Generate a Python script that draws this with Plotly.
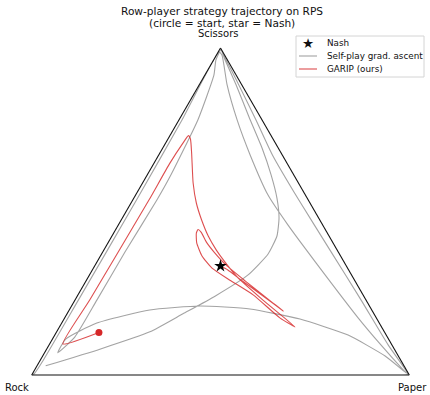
import plotly.graph_objects as go

# Row-player mixed strategy (Rock, Paper, Scissors) along each run.

# Self-play simultaneous gradient ascent: cycles Rock -> Paper -> Scissors
selfplay_rock = [
    0.949, 0.780, 0.621, 0.506, 0.394, 0.274, 0.189, 0.138, 0.105, 0.080, 0.060, 0.043, 0.030, 0.015, 0.006, 0.002,
    0.030, 0.059, 0.170, 0.331, 0.401, 0.565, 0.713, 0.828, 0.897,
    0.855, 0.748, 0.588, 0.449, 0.321, 0.204, 0.101, 0.035, 0.005,
    0.008, 0.030, 0.048, 0.076, 0.092, 0.099, 0.085, 0.066, 0.039, 0.007,
    0.010, 0.212, 0.455, 0.762, 0.946, 0.989,
    0.996, 0.005,
    0.002, 0.010, 0.013, 0.019, 0.025, 0.026, 0.016, 0.007, 0.001,
]
selfplay_paper = [
    0.023, 0.141, 0.247, 0.307, 0.365, 0.420, 0.441, 0.437, 0.415, 0.379, 0.328, 0.263, 0.181, 0.098, 0.030, 0.004,
    0.006, 0.024, 0.050, 0.063, 0.064, 0.059, 0.058, 0.056, 0.035,
    0.035, 0.093, 0.213, 0.340, 0.477, 0.625, 0.777, 0.907, 0.989,
    0.977, 0.875, 0.778, 0.578, 0.449, 0.350, 0.242, 0.154, 0.074, 0.015,
    0.002, 0.008, 0.010, 0.009, 0.008, 0.005,
    0.003, 0.994,
    0.992, 0.898, 0.758, 0.599, 0.440, 0.301, 0.204, 0.091, 0.002,
]
selfplay_scissors = [
    0.028, 0.079, 0.132, 0.187, 0.241, 0.306, 0.370, 0.425, 0.480, 0.541, 0.612, 0.694, 0.789, 0.887, 0.964, 0.994,
    0.964, 0.917, 0.780, 0.606, 0.535, 0.376, 0.229, 0.116, 0.068,
    0.110, 0.159, 0.199, 0.211, 0.202, 0.171, 0.122, 0.058, 0.006,
    0.015, 0.095, 0.174, 0.346, 0.459, 0.551, 0.673, 0.780, 0.887, 0.978,
    0.988, 0.780, 0.535, 0.229, 0.046, 0.006,
    0.001, 0.001,
    0.006, 0.092, 0.229, 0.382, 0.535, 0.673, 0.780, 0.902, 0.997,
]

# GARIP: same start, spirals in to the equilibrium
garip_rock = [
    0.757, 0.870, 0.731, 0.422, 0.310, 0.245, 0.219, 0.219, 0.237, 0.279, 0.301, 0.313,
    0.320, 0.320, 0.316, 0.306, 0.273, 0.229, 0.255, 0.291, 0.330, 0.359, 0.367, 0.361,
    0.347, 0.337, 0.333, 0.334, 0.329, 0.317, 0.291, 0.258, 0.236, 0.268, 0.302, 0.320, 0.333,
]
garip_paper = [
    0.113, 0.035, 0.039, 0.043, 0.042, 0.046, 0.049, 0.060, 0.084, 0.134, 0.173, 0.213,
    0.255, 0.298, 0.335, 0.394, 0.498, 0.624, 0.571, 0.464, 0.380, 0.314, 0.269, 0.235,
    0.219, 0.218, 0.230, 0.262, 0.295, 0.347, 0.421, 0.510, 0.568, 0.488, 0.405, 0.359, 0.334,
]
garip_scissors = [
    0.130, 0.095, 0.230, 0.535, 0.648, 0.709, 0.732, 0.721, 0.679, 0.587, 0.526, 0.474,
    0.425, 0.382, 0.349, 0.300, 0.229, 0.147, 0.174, 0.245, 0.290, 0.327, 0.364, 0.404,
    0.434, 0.445, 0.437, 0.404, 0.376, 0.336, 0.288, 0.232, 0.196, 0.244, 0.293, 0.321, 0.333,
]

nash_rock, nash_paper, nash_scissors = [1 / 3], [1 / 3], [1 / 3]

vertex_labels = ["Scissors", "Rock", "Paper"]
legend_labels = ["Nash", "Self-play grad. ascent", "GARIP (ours)"]
title_lines = ["Row-player strategy trajectory on RPS", "(circle = start, star = Nash)"]

GRAY = "rgba(128,128,128,0.72)"
RED = "rgba(214,39,40,0.82)"
FONT = "DejaVu Sans"
W, H = 430, 395


def fx(x):
    return x / W


def fy(y):
    return 1 - y / H


fig = go.Figure()
fig.add_trace(go.Scatterternary(
    a=selfplay_scissors, b=selfplay_rock, c=selfplay_paper, mode="lines",
    line=dict(color=GRAY, width=1.1, shape="spline", smoothing=0.5),
    hoverinfo="skip", showlegend=False,
))
fig.add_trace(go.Scatterternary(
    a=garip_scissors, b=garip_rock, c=garip_paper, mode="lines",
    line=dict(color=RED, width=1.1, shape="spline", smoothing=0.5),
    hoverinfo="skip", showlegend=False,
))
fig.add_trace(go.Scatterternary(
    a=garip_scissors[:1], b=garip_rock[:1], c=garip_paper[:1], mode="markers",
    marker=dict(symbol="circle", size=7, color="#d62728", line=dict(width=0)),
    hoverinfo="skip", showlegend=False,
))
fig.add_trace(go.Scatterternary(
    a=nash_scissors, b=nash_rock, c=nash_paper, mode="markers",
    marker=dict(symbol="star", size=9.5, color="black", line=dict(width=0)),
    hoverinfo="skip", showlegend=False,
))

axis_style = dict(
    min=0, showgrid=False, showticklabels=False, ticks="",
    showline=True, linecolor="#111111", linewidth=1.1, title=dict(text=""),
)


def text_ann(text, x, y, size, xanchor="center"):
    return dict(
        text=text, x=fx(x), y=fy(y), xref="paper", yref="paper",
        showarrow=False, xanchor=xanchor, yanchor="middle",
        font=dict(family=FONT, size=size, color="#111111"),
    )


annotations = [
    text_ann(title_lines[0], 221.7, 11, 10.6),
    text_ann(title_lines[1], 221.7, 23, 10.6),
    text_ann(vertex_labels[0], 218.5, 33, 10),
    text_ann(vertex_labels[1], 16.7, 387, 10),
    text_ann(vertex_labels[2], 429, 387, 10, "right"),
    text_ann("\u2605", 308.3, 43, 13.5),
    text_ann(legend_labels[0], 325, 43, 8.8, "left"),
    text_ann(legend_labels[1], 325, 56, 8.8, "left"),
    text_ann(legend_labels[2], 325, 69, 8.8, "left"),
]

shapes = [
    dict(type="rect", xref="paper", yref="paper",
         x0=fx(296), x1=fx(424), y0=fy(77), y1=fy(36),
         line=dict(color="#d4d4d4", width=1), fillcolor="rgba(255,255,255,0.85)"),
    dict(type="line", xref="paper", yref="paper",
         x0=fx(299), x1=fx(317), y0=fy(56), y1=fy(56),
         line=dict(color=GRAY, width=1.1)),
    dict(type="line", xref="paper", yref="paper",
         x0=fx(299), x1=fx(317), y0=fy(69), y1=fy(69),
         line=dict(color=RED, width=1.1)),
]

fig.update_layout(
    width=W, height=H, autosize=False,
    margin=dict(l=0, r=0, t=0, b=0),
    paper_bgcolor="white",
    showlegend=False,
    ternary=dict(
        sum=1, bgcolor="white",
        domain=dict(x=[0.0256, 1.0], y=[fy(375), fy(48)]),
        aaxis=axis_style, baxis=axis_style, caxis=axis_style,
    ),
    annotations=annotations,
    shapes=shapes,
)

fig.write_html("out.html")
